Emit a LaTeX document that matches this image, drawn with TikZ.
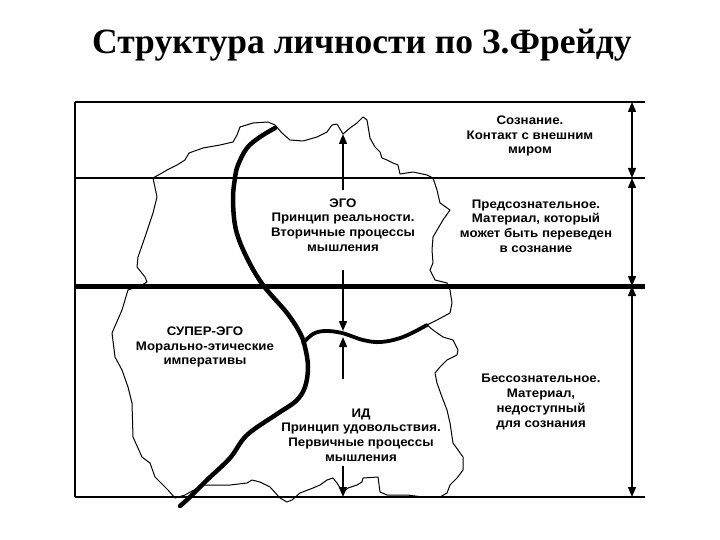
\documentclass[tikz,border=0pt]{standalone}
\usepackage{fontspec}
\setmainfont{Liberation Serif}
\newfontfamily\labelfont{Liberation Sans}[FakeStretch=1.07]
\usetikzlibrary{arrows.meta}

\begin{document}
\begin{tikzpicture}[
  x=1pt, y=-1pt,
  % Estilos de textos
  region/.style={align=center, inner sep=0pt, font=\labelfont\bfseries\fontsize{12.4}{14.7}\selectfont},
  % Estilos de lineas
  thinline/.style={line width=1.3pt},
  level/.style={draw, line width=1.4pt, {Triangle[width=8pt,length=10pt]}-{Triangle[width=8pt,length=10pt]}},
  link/.style={draw, line width=1.4pt, -{Triangle[width=8pt,length=10pt]}},
  outline/.style={draw, line width=1pt, line join=round},
  boundary/.style={draw, line width=4.5pt, line cap=round}
]
  \useasboundingbox (0,0) rectangle (720,540);

  % Titulo
  \node[anchor=base, font=\bfseries\fontsize{35.5}{40}\selectfont] (title) at (362,54) {Структура личности по З.Фрейду};

  % ==========================================
  % NIVELES
  % ==========================================
  \coordinate (top_l) at (75,102);    \coordinate (top_r) at (645,102);
  \coordinate (pre_l) at (75,178);    \coordinate (pre_r) at (645,178);
  \coordinate (unc_l) at (75,286);    \coordinate (unc_r) at (645,286);
  \coordinate (bot_l) at (75,497);    \coordinate (bot_r) at (645,497);

  \draw[line width=2pt] (top_l) -- (top_r);
  \draw[thinline] (pre_l) -- (pre_r);
  \draw[thinline] (bot_l) -- (bot_r);
  \draw[thinline] (top_l) -- (bot_l);

  % ==========================================
  % CONTORNO DE LA PERSONALIDAD
  % ==========================================
  \draw[outline] (240,127) -- (253,123) -- (268,122) -- (275,125) -- (282,133) -- (290,140)
    -- (303,141) -- (317,137) -- (327,132) -- (332,125) -- (337,124) -- (343,134) -- (350,128)
    -- (357,123) -- (363,117) -- (367,120) -- (370,138) -- (375,147) -- (380,152) -- (382,158)
    -- (387,160) -- (393,163) -- (398,165) -- (400,174) -- (413,172) -- (427,175) -- (433,178)
    -- (437,190) -- (440,203) -- (450,210) -- (443,220) -- (433,237) -- (432,250) -- (433,263)
    -- (430,270) -- (435,280) -- (447,283) -- (450,290) -- (452,303) -- (450,313) -- (437,320)
    -- (427,325) -- (433,330) -- (443,337) -- (453,340) -- (458,350) -- (457,355) -- (447,360)
    -- (440,367) -- (435,373) -- (437,383) -- (442,397) -- (447,410) -- (450,423) -- (453,443)
    -- (463,457) -- (463,470) -- (457,478) -- (450,485) -- (447,493) -- (440,497) -- (423,497)
    -- (407,495) -- (387,495) -- (380,492) -- (378,477) -- (363,478) -- (362,482) -- (357,485)
    -- (348,488) -- (343,492) -- (340,488) -- (337,483) -- (333,478) -- (327,480) -- (320,485)
    -- (313,488) -- (300,493) -- (292,500) -- (287,502) -- (280,498) -- (270,487) -- (260,482)
    -- (252,480) -- (247,483) -- (230,485) -- (203,485) -- (185,495) -- (175,498) -- (168,490)
    -- (155,477) -- (150,463) -- (142,457) -- (133,437) -- (132,403) -- (128,387) -- (122,370)
    -- (115,357) -- (112,333) -- (122,310) -- (128,290) -- (142,285) -- (147,282) -- (145,277)
    -- (137,267) -- (138,257) -- (145,237) -- (153,213) -- (157,197) -- (153,178) -- (162,173)
    -- (167,170) -- (177,165) -- (185,160) -- (189,153) -- (203,148) -- (220,145) -- (233,142)
    -- (237,135) -- cycle;

  % Linea gruesa del preconsciente / inconsciente
  \draw[line width=5pt] (unc_l) -- (unc_r);

  % Fronteras internas
  \draw[boundary] plot[smooth, tension=0.6] coordinates {
    (275,128) (260,137) (247,148) (238,165) (235,178) (233,200) (236,230) (247,258)
    (263,285) (287,313) (300,333) (305,347) (308,367) (305,387) (296,401) (277,414)
    (247,435) (230,458) (207,480) (190,497) (180,506)};
  \draw[boundary, line width=3.8pt] plot[smooth, tension=0.6] coordinates {
    (303,343) (313,334) (325,331) (342,333) (363,340) (381,342) (403,337) (427,325)};

  % ==========================================
  % FLECHAS
  % ==========================================
  \coordinate (con_a) at (632,102);
  \coordinate (con_b) at (632,178);
  \coordinate (con_c) at (632,286);
  \coordinate (con_d) at (632,497);
  \draw[level] (con_a) -- (con_b);
  \draw[level] (con_b) -- (con_c);
  \draw[level] (con_c) -- (con_d);

  \coordinate (ego_up_s) at (343,190);  \coordinate (ego_up_e) at (343,134);
  \coordinate (ego_dn_s) at (343,270);  \coordinate (ego_dn_e) at (343,331);
  \coordinate (id_up_s) at (343,379);   \coordinate (id_up_e) at (343,337);
  \coordinate (id_dn_s) at (343,466);   \coordinate (id_dn_e) at (343,497);
  \draw[link] (ego_up_s) -- (ego_up_e);
  \draw[link] (ego_dn_s) -- (ego_dn_e);
  \draw[link] (id_up_s) -- (id_up_e);
  \draw[link] (id_dn_s) -- (id_dn_e);

  % ==========================================
  % TEXTOS
  % ==========================================
  \node[region] (ego) at (343,225) {ЭГО\\Принцип реальности.\\Вторичные процессы\\мышления};
  \node[region] (superego) at (205,347) {СУПЕР-ЭГО\\Морально-этические\\императивы};
  \node[region] (id) at (361,435) {ИД\\Принцип удовольствия.\\Первичные процессы\\мышления};

  \node[region] (conscious) at (530,136) {Сознание.\\Контакт с внешним\\миром};
  \node[region] (preconscious) at (536,226) {Предсознательное.\\Материал, который\\может быть переведен\\в сознание};
  \node[region] (unconscious) at (541,402) {Бессознательное.\\Материал,\\недоступный\\для сознания};

\end{tikzpicture}
\end{document}
